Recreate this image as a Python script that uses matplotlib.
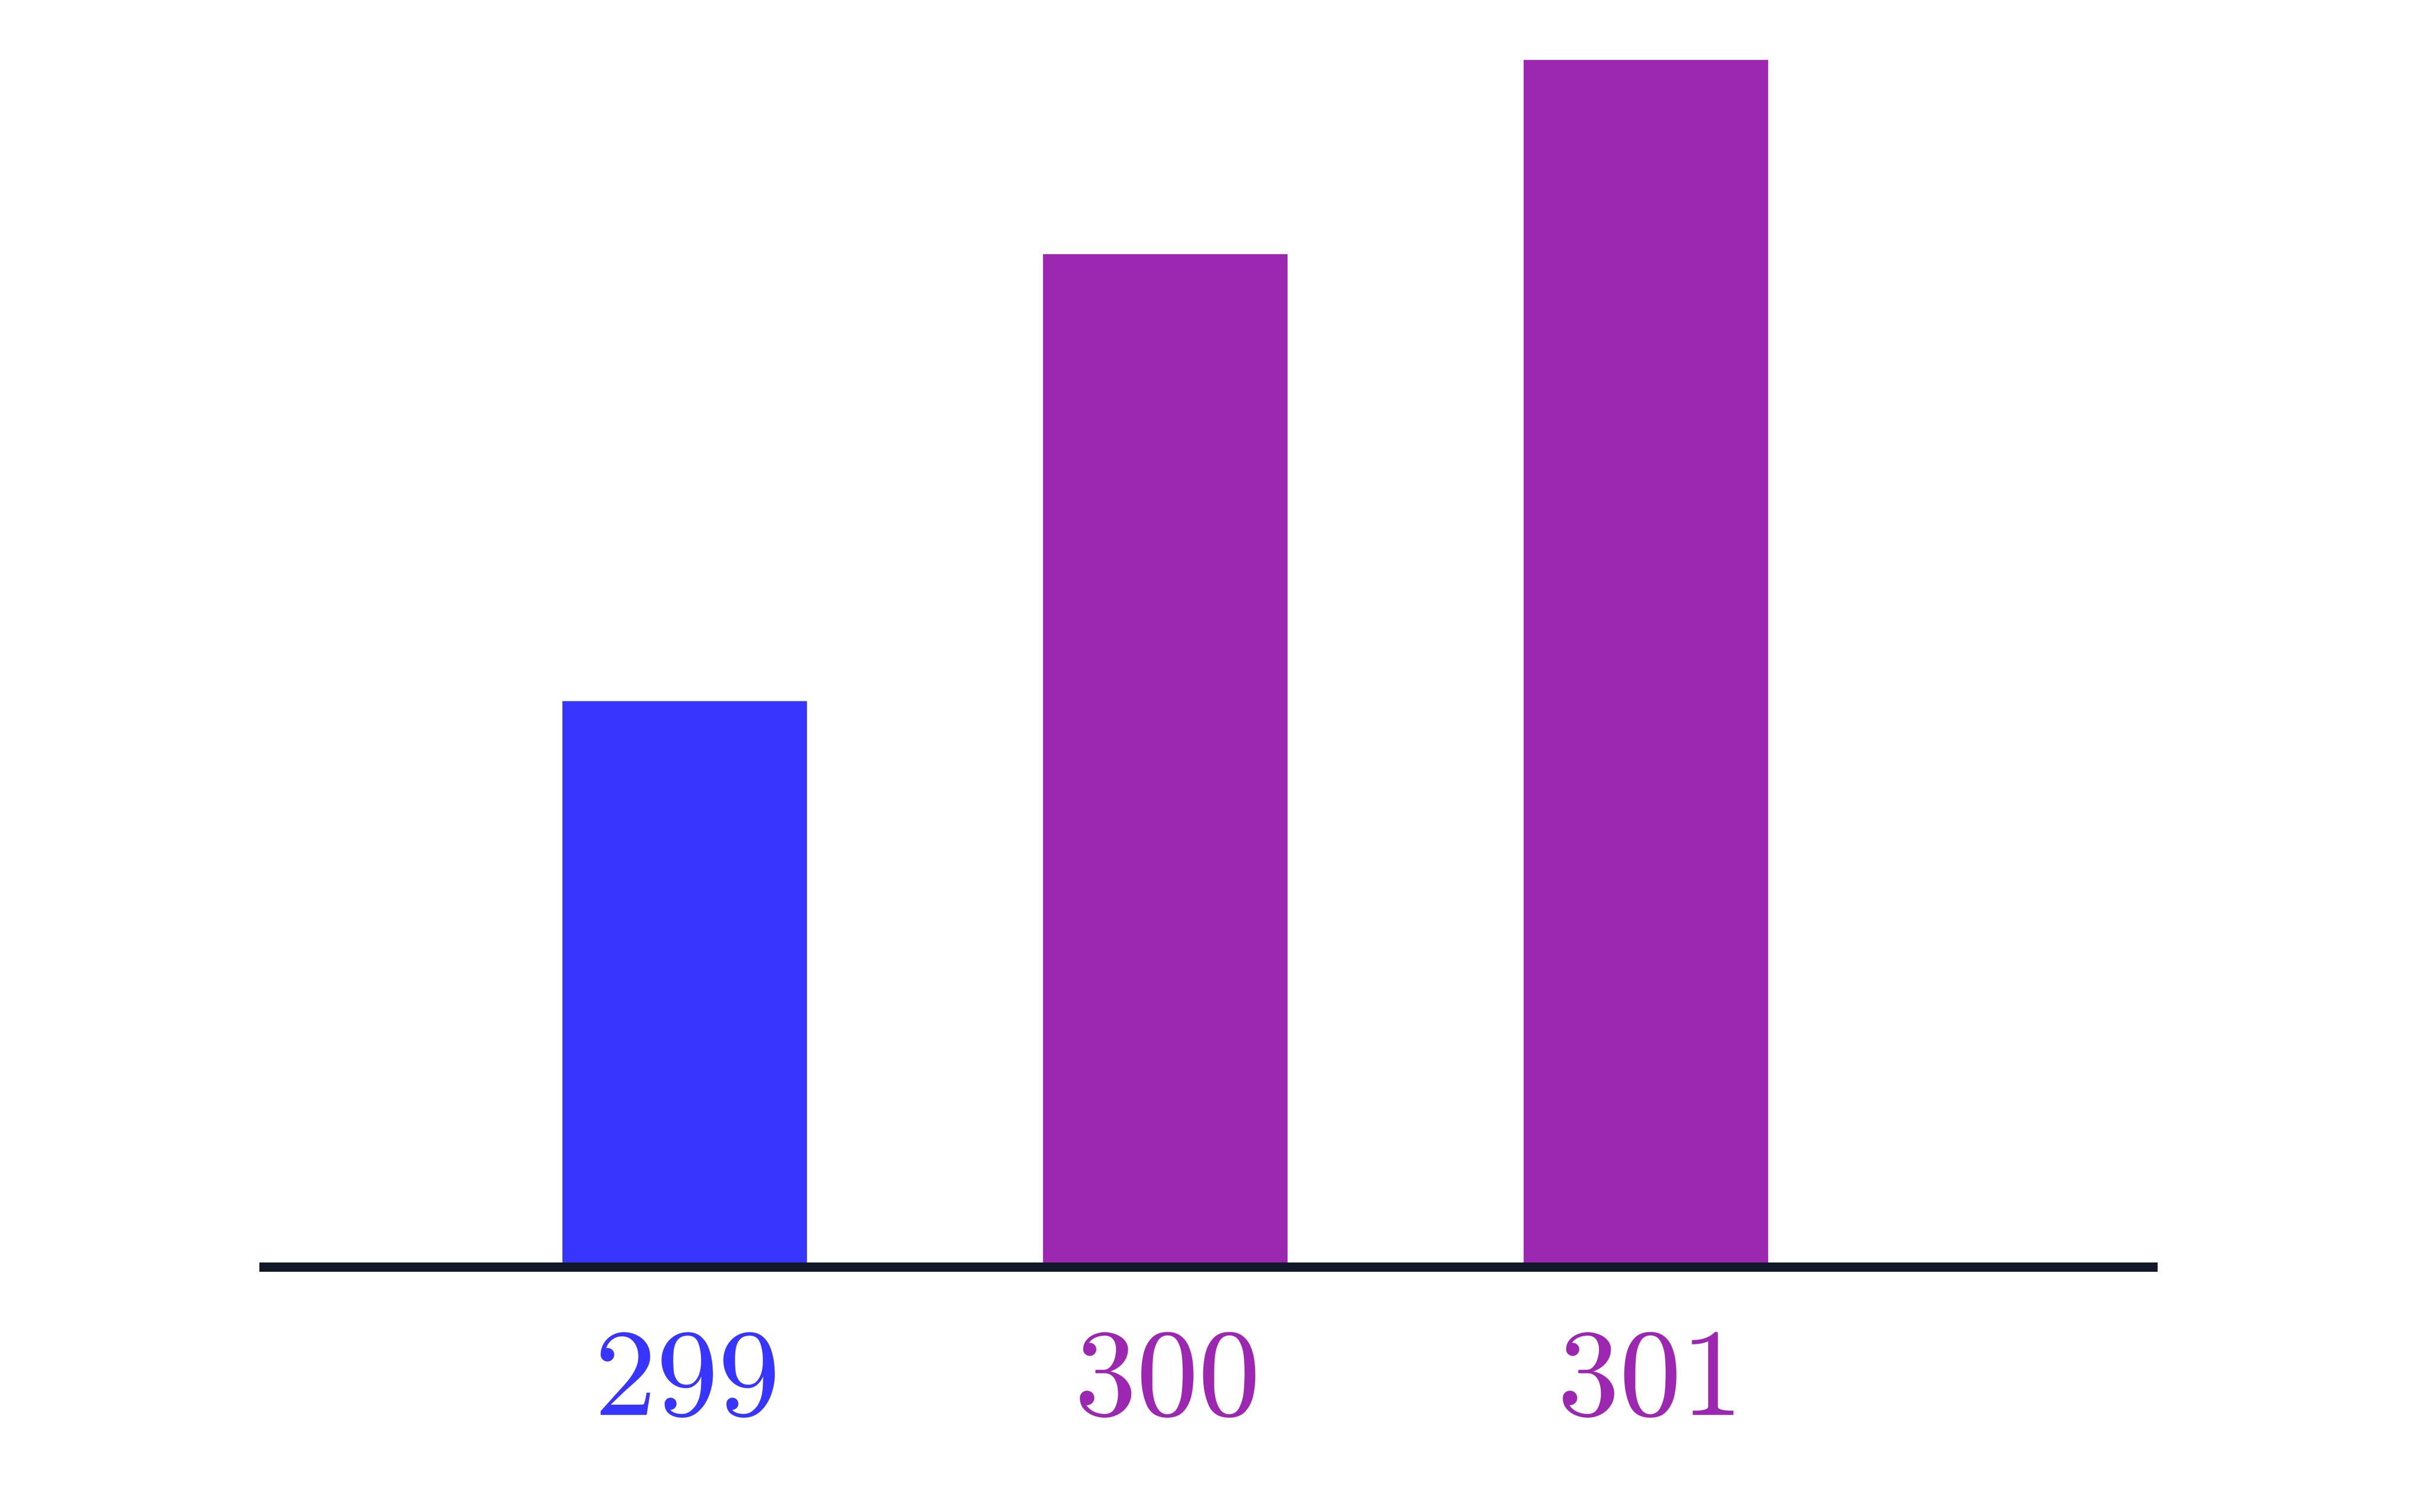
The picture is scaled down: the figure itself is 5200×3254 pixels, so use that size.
import matplotlib
matplotlib.use("Agg")
import matplotlib.pyplot as plt

categories = ["299", "300", "301"]
values = [46.9, 83.9, 100.0]
colors = ["#3835FF", "#9C27B0", "#9C27B0"]

plt.rcParams["mathtext.fontset"] = "cm"

W, H, DPI = 5200, 3254, 400
fig = plt.figure(figsize=(W / DPI, H / DPI), dpi=DPI)
left, right = 558 / W, 4642 / W
bottom, top = 1 - 2727 / H, 1 - 129 / H
ax = fig.add_axes([left, bottom, right - left, top - bottom])

x = list(range(len(categories)))
ax.bar(x, values, width=0.509, color=colors, zorder=2)
ax.set_xlim(-0.885, 3.065)
ax.set_ylim(0, 100)

for s in ["top", "right", "left"]:
    ax.spines[s].set_visible(False)
sp = ax.spines["bottom"]
sp.set_color("#111827")
sp.set_linewidth(3.6)
sp.set_capstyle("butt")
sp.set_zorder(3)
ax.set_yticks([])
ax.set_xticks(x)
ax.set_xticklabels([f"${c}$" for c in categories], fontsize=48)
for lbl, c in zip(ax.get_xticklabels(), colors):
    lbl.set_color(c)
ax.tick_params(axis="x", length=0, pad=20.5)

fig.savefig("out.png", dpi=DPI, facecolor="white")
